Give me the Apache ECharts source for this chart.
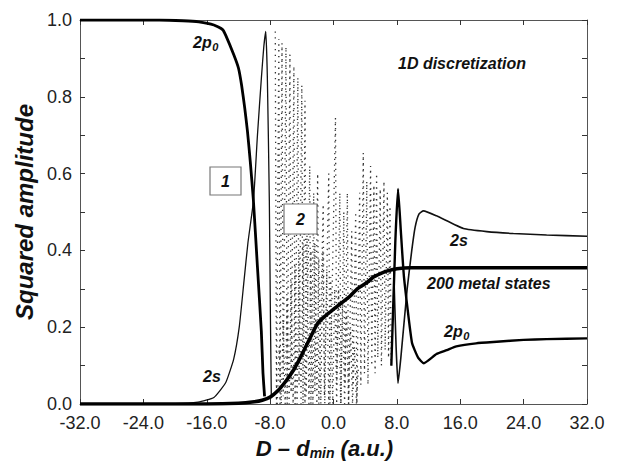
<!doctype html>
<html>
<head>
<meta charset="utf-8">
<script src="https://cdn.jsdelivr.net/npm/echarts@6/dist/echarts.min.js"></script>
<style>
  html, body { margin: 0; padding: 0; background: #fff; }
  #main { width: 621px; height: 470px; }
</style>
</head>
<body>
<div id="main"></div>
<script>
// 2p0 amplitude, isolated-state transition (curve 1)
var p0Left = [[-32, 1], [-22, 1], [-19, 0.998], [-17, 0.995], [-15.1, 0.987], [-14, 0.975], [-13.6, 0.96],
  [-12.6, 0.91], [-12, 0.875], [-11.6, 0.83], [-11.2, 0.77], [-10.86, 0.71], [-10.5, 0.63], [-10.11, 0.53],
  [-9.61, 0.36], [-9.11, 0.19], [-8.9, 0.08], [-8.7, 0.02]];
// 2s amplitude, left part
var s2Left = [[-32, 0], [-20, 0.001], [-17.1, 0.005], [-15.1, 0.017], [-13.6, 0.056], [-12.6, 0.117],
  [-11.9, 0.2], [-11.3, 0.32], [-10.8, 0.42], [-10.1, 0.53], [-9.6, 0.7], [-9.1, 0.85], [-8.8, 0.93],
  [-8.55, 0.97], [-8.35, 0.85], [-8.1, 0.53], [-7.95, 0.2], [-7.85, 0.02]];
// right parts after the metal band
var p0Right = [[7.3, 0.1], [7.8, 0.42], [8.15, 0.56], [8.5, 0.45], [8.9, 0.33], [9.9, 0.16], [10.7, 0.12],
  [11.4, 0.106], [13, 0.13], [14.3, 0.14], [15.5, 0.15], [18, 0.158], [20.6, 0.162], [24, 0.167],
  [26.9, 0.169], [32, 0.171]];
var s2Right = [[7.6, 0.35], [7.9, 0.15], [8.14, 0.054], [8.5, 0.12], [9.3, 0.3], [9.88, 0.4], [10.3, 0.46],
  [10.8, 0.495], [11.35, 0.503], [13, 0.49], [16.4, 0.457], [19.35, 0.449], [22.7, 0.444], [26.9, 0.44],
  [32, 0.437]];
// summed population of the 200 metal states
var metal = [[-32, 0], [-16, 0], [-12, 0.002], [-10, 0.006], [-9, 0.01], [-8, 0.018], [-7, 0.035],
  [-6, 0.06], [-5, 0.09], [-4.2, 0.12], [-3.6, 0.145], [-3, 0.17], [-2, 0.21], [-1.07, 0.229],
  [-0.4, 0.24], [0.5, 0.255], [1, 0.263], [2.09, 0.281], [3, 0.3], [4.2, 0.316], [5, 0.33], [6, 0.34],
  [6.7, 0.346], [8, 0.352], [9.7, 0.355], [32, 0.355]];
// fast oscillation of 2s (curve 2): streak positions, tops and bottoms
var stripX = [-7.35, -6.9, -6.5, -6.0, -5.5, -5.0, -4.5, -4.0, -3.6, -3.0, -2.5, -2.0, -1.3, -0.6, 0.25,
  0.8, 1.3, 1.75, 2.3, 2.8, 3.3, 3.76, 4.2, 4.68, 5.1, 5.44, 5.9, 6.37, 6.8, 7.13];
var stripTop = [0.97, 0.95, 0.94, 0.93, 0.91, 0.88, 0.85, 0.83, 0.79, 0.62, 0.55, 0.6, 0.52, 0.6, 0.745,
  0.55, 0.5, 0.55, 0.45, 0.5, 0.55, 0.654, 0.58, 0.62, 0.57, 0.6, 0.56, 0.58, 0.55, 0.515];
var stripBottom = [0, 0, 0.02, 0, 0.03, 0, 0.05, 0, 0.02, 0, 0.03, 0, 0.02, 0, 0.05,
  0, 0.05, 0, 0.04, 0, 0.05, 0.08, 0.05, 0.1, 0.08, 0.12, 0.1, 0.14, 0.12, 0.1];
// fast oscillation of 2p0 in the lower band
var lowX = [-7.1, -6.6, -6.1, -5.6, -5.1, -4.6, -4.1, -3.6, -3.1, -2.6, -2.1, -1.6, -1.1, -0.6, -0.1,
  0.4, 0.9, 1.4, 1.9, 2.4, 2.9];
var lowTop = [0.15, 0.22, 0.28, 0.32, 0.36, 0.4, 0.42, 0.44, 0.4, 0.42, 0.38, 0.4, 0.35, 0.33, 0.3,
  0.3, 0.27, 0.24, 0.2, 0.15, 0.1];

var zigzag = [];
stripX.forEach(function (x, i) {
  zigzag.push([x, stripTop[i]]);
  zigzag.push([x + 0.15, stripBottom[i]]);
});
var lowZigzag = [];
lowX.forEach(function (x, i) {
  lowZigzag.push([x, 0]);
  lowZigzag.push([x + 0.25, lowTop[i]]);
});

var chart = echarts.init(document.getElementById('main'), null, { renderer: 'svg' });

var tickFont = { fontFamily: 'Liberation Sans', fontSize: 18, color: '#222' };
var frame = { show: true, onZero: false, lineStyle: { color: '#555', width: 1 } };
var tick = { inside: true, length: 5, lineStyle: { color: '#333' } };

function lbl(text, x, y) {
  return {
    type: 'text', x: x, y: y, z: 100,
    style: { text: text, font: 'italic bold 16px "Liberation Sans"', fill: '#111' }
  };
}
function sub(main, s, x, y) {
  return {
    type: 'group', x: x, y: y, z: 100,
    children: [
      { type: 'text', x: 0, y: 0, style: { text: main, font: 'italic bold 16px "Liberation Sans"', fill: '#111' } },
      { type: 'text', x: main.length * 9.6, y: 7, style: { text: s, font: 'italic bold 11px "Liberation Sans"', fill: '#111' } }
    ]
  };
}
function box(text, x, y, w, h) {
  return {
    type: 'group', x: x, y: y, z: 100,
    children: [
      { type: 'rect', z: 100, shape: { x: 0, y: 0, width: w, height: h }, style: { fill: '#fff', stroke: '#777', lineWidth: 1.2 } },
      { type: 'text', z: 101, x: w / 2, y: h / 2, style: { text: text, font: 'italic bold 16px "Liberation Sans"', fill: '#111', align: 'center', verticalAlign: 'middle' } }
    ]
  };
}

chart.setOption({
  animation: false,
  grid: { left: 80, right: 34, top: 20, bottom: 66, outerBoundsMode: 'none', containLabel: false },
  xAxis: [{
    type: 'value', min: -32, max: 32, interval: 8,
    axisLine: frame, splitLine: { show: false }, axisTick: tick,
    axisLabel: Object.assign({ margin: 10, formatter: function (v) { return v.toFixed(1); } }, tickFont),
    name: '{a|D – d}{s|min}{a| (a.u.)}', nameLocation: 'middle', nameGap: 32,
    nameTextStyle: {
      padding: [0, 18, 0, 0],
      rich: {
        a: { fontFamily: 'Liberation Sans', fontWeight: 'bold', fontStyle: 'italic', fontSize: 22, color: '#111' },
        s: { fontFamily: 'Liberation Sans', fontWeight: 'bold', fontStyle: 'italic', fontSize: 14, color: '#111', padding: [10, 0, 0, 0] }
      }
    }
  }, {
    type: 'value', position: 'top', min: -32, max: 32, interval: 8,
    axisLine: frame, splitLine: { show: false }, axisLabel: { show: false }, axisTick: tick
  }],
  yAxis: [{
    type: 'value', min: 0, max: 1, interval: 0.2,
    axisLine: frame, splitLine: { show: false }, axisTick: tick,
    minorTick: { show: true, splitNumber: 2, length: 5, lineStyle: { color: '#333' } },
    axisLabel: Object.assign({ margin: 8, formatter: function (v) { return v.toFixed(1); } }, tickFont),
    name: 'Squared amplitude', nameLocation: 'middle', nameGap: 44, nameRotate: 90,
    nameTextStyle: { fontFamily: 'Liberation Sans', fontWeight: 'bold', fontStyle: 'italic', fontSize: 24, color: '#111' }
  }, {
    type: 'value', position: 'right', min: 0, max: 1, interval: 0.2,
    axisLine: frame, splitLine: { show: false }, axisLabel: { show: false }, axisTick: tick,
    minorTick: { show: true, splitNumber: 2, length: 5, lineStyle: { color: '#333' } }
  }],
  series: [
    { type: 'line', data: lowZigzag, showSymbol: false, lineStyle: { color: '#333', width: 1.3, type: [1.3, 4.5] } },
    { type: 'line', data: zigzag, showSymbol: false, lineStyle: { color: '#333', width: 1.3, type: [1.3, 4.5] } },
    { type: 'line', data: s2Left, showSymbol: false, smooth: 0.15, lineStyle: { color: '#111', width: 1.3 } },
    { type: 'line', data: s2Right, showSymbol: false, smooth: 0.15, lineStyle: { color: '#111', width: 1.6 } },
    { type: 'line', data: p0Left, showSymbol: false, smooth: 0.15, lineStyle: { color: '#000', width: 2.8 } },
    { type: 'line', data: p0Right, showSymbol: false, smooth: 0.15, lineStyle: { color: '#000', width: 2.4 } },
    { type: 'line', data: metal, showSymbol: false, smooth: 0.15, lineStyle: { color: '#000', width: 3.6 } }
  ],
  graphic: [
    sub('2p', '0', 193, 34),
    lbl('1D discretization', 398, 55),
    box('1', 210, 167, 31, 28),
    box('2', 284, 204, 33, 30),
    lbl('2s', 203, 368),
    lbl('2s', 450, 232),
    lbl('200 metal states', 427, 275),
    sub('2p', '0', 444, 323)
  ]
});
</script>
</body>
</html>
